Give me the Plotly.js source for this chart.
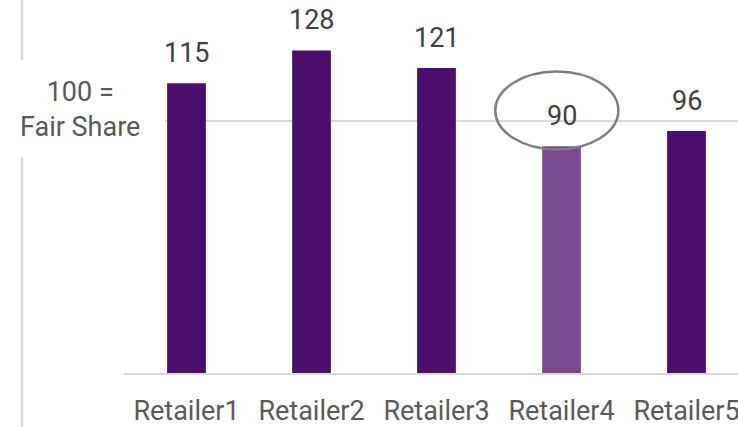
<!DOCTYPE html>
<html>
<head>
<meta charset="utf-8">
<script src="https://cdn.plot.ly/plotly-3.0.1.min.js"></script>
<style>html,body{margin:0;padding:0;background:#fff;}#chart{width:738px;height:427px;}</style>
</head>
<body>
<div id="chart"></div>
<script>
const categories = ["Retailer1", "Retailer2", "Retailer3", "Retailer4", "Retailer5"];
const values = [115, 128, 121, 90, 96];
const highlightIndex = 3;
const fairShare = 100;
const fairShareLabel = "100 =<br>Fair Share";

const darkPurple = "#4b0f6b";
const lightPurple = "#7a4b90";
const colors = categories.map((c, i) => i === highlightIndex ? lightPurple : darkPurple);

const trace = {
  type: "bar",
  x: categories,
  y: values,
  marker: {color: colors, line: {color: colors, width: 0}},
  width: 0.31,
  hoverinfo: "skip"
};

const annotations = values.map((v, i) => ({
  x: categories[i], y: v, xref: "x", yref: "y",
  text: String(v), showarrow: false,
  yanchor: "bottom", yshift: 12,
  font: {family: "Roboto, sans-serif", size: 27, color: "#404040"}
}));
annotations.push({
  x: -0.0717, y: fairShare, xref: "paper", yref: "y",
  text: fairShareLabel, showarrow: false,
  xanchor: "center", yanchor: "middle", yshift: 11,
  align: "center",
  font: {family: "Roboto, sans-serif", size: 27, color: "#595959"}
});

const shapes = [
  {type: "line", xref: "paper", yref: "paper", x0: -0.1661, x1: -0.1661, y0: -0.15, y1: 1.01,
   line: {color: "#d9d9d9", width: 2.5}, layer: "below"},
  {type: "rect", xref: "paper", yref: "y", x0: -0.25, x1: 0.0668, y0: 85.7, y1: 124.2,
   fillcolor: "#ffffff", line: {width: 0}, layer: "above"},
  {type: "circle", xref: "x", yref: "y",
   x0: highlightIndex - 0.53, x1: highlightIndex + 0.455, y0: 88.7, y1: 119.6,
   line: {color: "#7f7f7f", width: 2.5}, fillcolor: "rgba(0,0,0,0)", layer: "above"}
];

const layout = {
  width: 738, height: 427,
  margin: {l: 124, r: 0, t: 0, b: 54, pad: 0},
  paper_bgcolor: "#ffffff", plot_bgcolor: "#ffffff",
  showlegend: false,
  font: {family: "Roboto, sans-serif"},
  xaxis: {
    type: "category",
    range: [-0.5, 4.412],
    showgrid: false, zeroline: false,
    showline: true, linecolor: "#d9d9d9", linewidth: 2,
    ticks: "", fixedrange: true,
    ticklabelstandoff: 13,
    tickfont: {family: "Roboto, sans-serif", size: 27, color: "#595959"}
  },
  yaxis: {
    range: [0, 148],
    tickvals: [fairShare],
    showticklabels: false,
    showgrid: true, gridcolor: "#d9d9d9", gridwidth: 1.5,
    zeroline: false, showline: false, ticks: "", fixedrange: true
  },
  annotations: annotations,
  shapes: shapes
};

Plotly.newPlot("chart", [trace], layout, {displayModeBar: false, staticPlot: true});
</script>
</body>
</html>
